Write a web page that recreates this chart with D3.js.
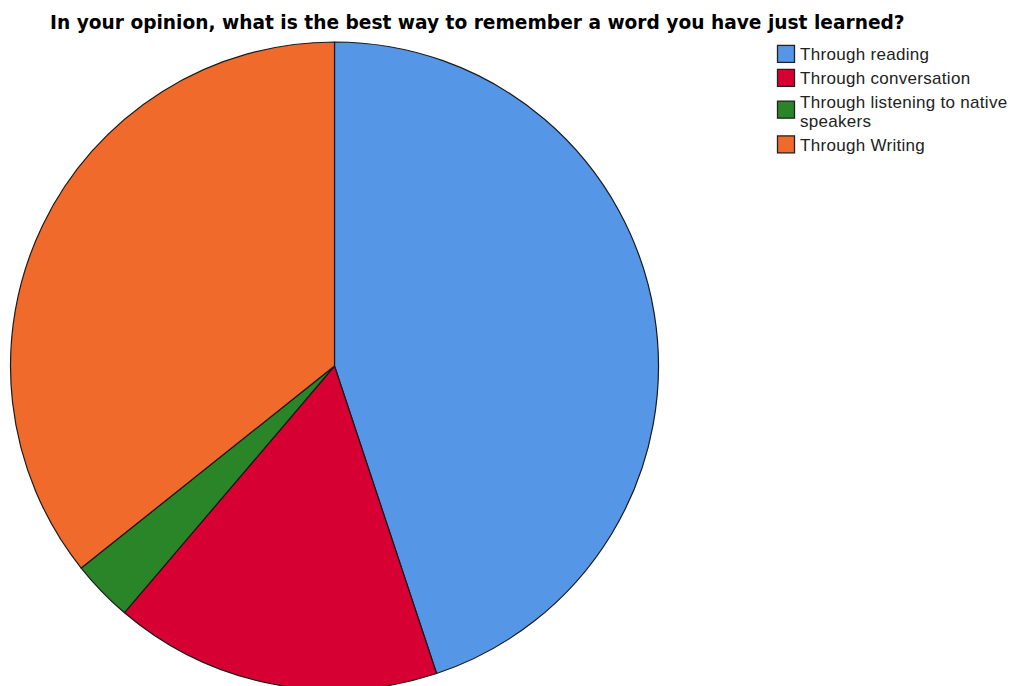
<!DOCTYPE html>
<html>
<head>
<meta charset="utf-8">
<script src="https://cdn.jsdelivr.net/npm/d3@7"></script>
<style>
  html, body { margin: 0; padding: 0; background: #fff; }
  svg { display: block; }
</style>
</head>
<body>
<svg id="chart" width="1011" height="686"></svg>
<script>
// Survey responses: best way to remember a newly learned word
const categories = ["Through reading", "Through conversation", "Through listening to native speakers", "Through Writing"];
const counts = [44, 16, 3, 35];
const colors = ["#5596E6", "#D60032", "#2A8428", "#F06A2C"];
const legendLines = [["Through reading"], ["Through conversation"], ["Through listening to native", "speakers"], ["Through Writing"]];
const title = "In your opinion, what is the best way to remember a word you have just learned?";

const svg = d3.select("#chart");

svg.append("text")
  .attr("x", 50)
  .attr("y", 28.5)
  .attr("font-family", "DejaVu Sans, Verdana, sans-serif")
  .attr("font-weight", "bold")
  .attr("font-size", 18.6)
  .attr("fill", "#000")
  .text(title);

const cx = 334.5, cy = 366, r = 324;

const data = categories.map((c, i) => ({ name: c, value: counts[i], color: colors[i] }));

const pie = d3.pie().value(d => d.value).sort(null);
const arc = d3.arc().innerRadius(0).outerRadius(r);

const pieG = svg.append("g").attr("transform", `translate(${cx},${cy})`);
pieG.selectAll("path")
  .data(pie(data))
  .join("path")
  .attr("d", arc)
  .attr("fill", d => d.data.color)
  .attr("stroke", "#1a1a1a")
  .attr("stroke-width", 1.2)
  .attr("stroke-linejoin", "round");

// Legend: one swatch per category, label lines stacked beside it
const legend = svg.append("g")
  .attr("font-family", "Liberation Sans, Arial, sans-serif")
  .attr("font-size", 17)
  .attr("letter-spacing", 0.3);
const rowStep = 24, lineStep = 18.5, capH = 12.2;
let baseline = 60;
legendLines.forEach((lines, i) => {
  const firstCapTop = baseline - capH;
  const lastBase = baseline + (lines.length - 1) * lineStep;
  const mid = (firstCapTop + lastBase) / 2 - (lines.length > 1 ? 1.5 : 0);
  legend.append("rect")
    .attr("x", 777.5).attr("y", mid - 8.5)
    .attr("width", 17).attr("height", 17)
    .attr("fill", colors[i])
    .attr("stroke", "#222").attr("stroke-width", 1.3);
  lines.forEach((t, j) => {
    legend.append("text")
      .attr("x", 800)
      .attr("y", baseline + j * lineStep)
      .attr("fill", "#222")
      .text(t);
  });
  baseline = lastBase + rowStep;
});
</script>
</body>
</html>
